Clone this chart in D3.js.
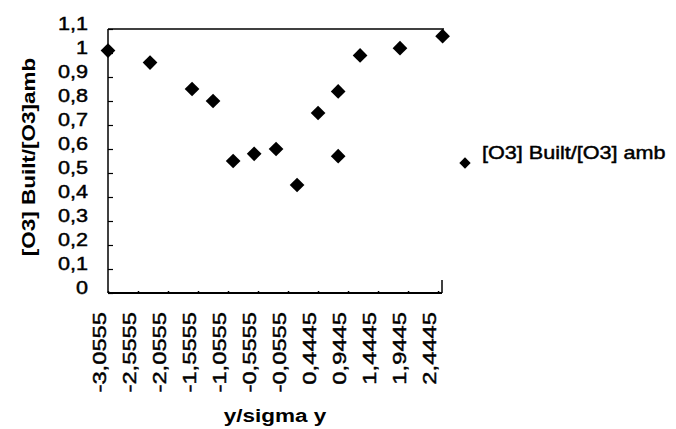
<!DOCTYPE html>
<html>
<head>
<meta charset="utf-8">
<script src="https://cdn.jsdelivr.net/npm/d3@7"></script>
<style>
  body { margin: 0; background: #fff; }
  svg { display: block; font-family: "Liberation Sans", Arial, sans-serif; }
  .heavy { stroke: #000; stroke-width: 0.45; }
</style>
</head>
<body>
<svg class="chart" width="676" height="429"></svg>
<script>
"use strict";

// y/sigma y
const ratioX = [-3.0555, -2.355, -1.655, -1.305, -0.97, -0.62, -0.255, 0.095, 0.445, 0.78, 0.78, 1.145, 1.81, 2.52];
// [O3] Built/[O3] amb
const ratioY = [1.01, 0.96, 0.85, 0.8, 0.55, 0.58, 0.6, 0.45, 0.75, 0.84, 0.57, 0.99, 1.02, 1.07];
const xTickValues = [-3.0555, -2.5555, -2.0555, -1.5555, -1.0555, -0.5555, -0.0555, 0.4445, 0.9445, 1.4445, 1.9445, 2.4445];
const yTickValues = [0, 0.1, 0.2, 0.3, 0.4, 0.5, 0.6, 0.7, 0.8, 0.9, 1, 1.1];
const seriesName = "[O3] Built/[O3] amb";

const svg = d3.select(".chart");
const plotLeft = 108, plotRight = 442, plotTop = 29, plotBottom = 293;

const x = d3.scaleLinear().domain([-3.0555, 2.51]).range([plotLeft, plotRight]);
const y = d3.scaleLinear().domain([0, 1.1]).range([plotBottom, plotTop]);
const comma = (d) => String(d).replace(".", ",");

// y axis
const gy = svg.append("g")
  .attr("transform", `translate(${plotLeft},0)`)
  .call(d3.axisLeft(y).tickValues(yTickValues).tickSize(-5).tickSizeOuter(0).tickFormat(comma));
gy.select(".domain").remove();
gy.selectAll(".tick line").attr("stroke", "#000").attr("stroke-width", 1.2);
gy.selectAll(".tick text")
  .attr("class", "heavy")
  .attr("x", null)
  .attr("dy", "0.35em")
  .attr("text-anchor", "end")
  .attr("transform", "translate(-20,-6) scale(1.2,1)")
  .attr("font-size", 18)
  .attr("fill", "#000");

// x axis
const gx = svg.append("g")
  .attr("transform", `translate(0,${plotBottom})`)
  .call(d3.axisBottom(x).tickValues(xTickValues).tickSize(-2).tickSizeOuter(0).tickFormat(comma));
gx.select(".domain").remove();
gx.selectAll(".tick line").attr("stroke", "#000").attr("stroke-width", 1.5);
gx.selectAll(".tick text")
  .attr("class", "heavy")
  .attr("y", null)
  .attr("dy", "0.35em")
  .attr("text-anchor", "end")
  .attr("transform", "translate(-9,19) rotate(-90) scale(1.25,1)")
  .attr("font-size", 19)
  .attr("fill", "#000");

// frame
const frame = svg.append("g").attr("stroke", "#000").attr("fill", "none");
frame.append("line").attr("x1", plotLeft).attr("x2", plotLeft).attr("y1", plotTop).attr("y2", plotBottom).attr("stroke-width", 1.5);
frame.append("line").attr("x1", plotLeft).attr("x2", plotRight + 2).attr("y1", plotTop).attr("y2", plotTop).attr("stroke-width", 1.5);
frame.append("line").attr("x1", plotLeft).attr("x2", plotRight).attr("y1", plotBottom).attr("y2", plotBottom).attr("stroke-width", 2);
frame.append("line").attr("x1", plotRight).attr("x2", plotRight).attr("y1", plotBottom - 13).attr("y2", plotBottom).attr("stroke-width", 1.5);

// points
const diamond = d3.symbol().type(d3.symbolSquare).size(108);
svg.append("g")
  .selectAll("path")
  .data(ratioX.map((d, i) => [d, ratioY[i]]))
  .join("path")
  .attr("d", diamond)
  .attr("transform", (d) => `translate(${x(d[0])},${y(d[1])}) rotate(45)`)
  .attr("fill", "#000");

// legend
const legend = svg.append("g").attr("transform", "translate(465,163)");
legend.append("path")
  .attr("d", d3.symbol().type(d3.symbolSquare).size(64))
  .attr("transform", "rotate(45)")
  .attr("fill", "#000");
legend.append("text")
  .attr("class", "heavy")
  .attr("transform", "translate(17,-4) scale(1.2,1)")
  .attr("font-size", 18)
  .text(seriesName);

// titles
svg.append("text")
  .attr("transform", "translate(35,157) rotate(-90) scale(1.25,1)")
  .attr("text-anchor", "middle")
  .attr("font-size", 18)
  .attr("font-weight", "bold")
  .text("[O3] Built/[O3]amb");

svg.append("text")
  .attr("transform", "translate(275,422) scale(1.25,1)")
  .attr("text-anchor", "middle")
  .attr("font-size", 18)
  .attr("font-weight", "bold")
  .text("y/sigma y");
</script>
</body>
</html>
